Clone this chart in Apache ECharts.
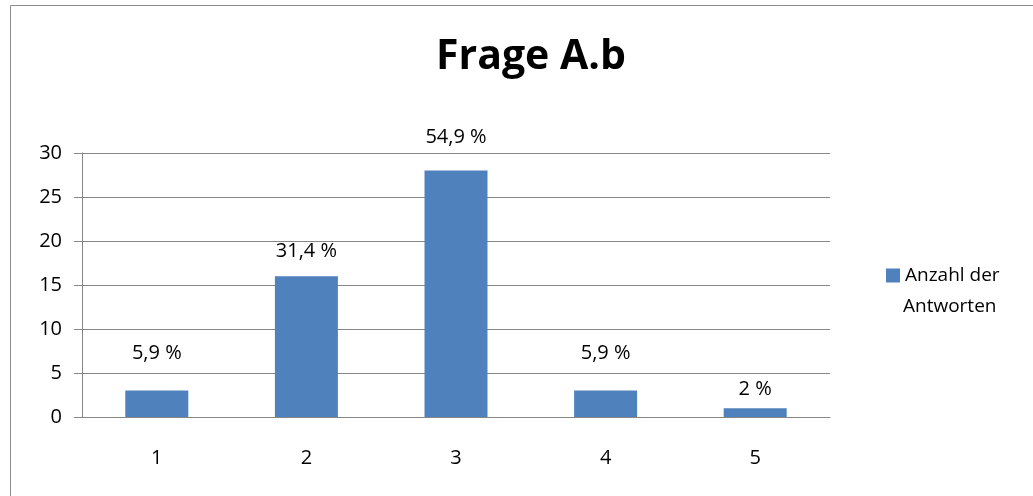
<!DOCTYPE html>
<html>
<head>
    <meta charset="utf-8" />
    <title>Frage A.b</title>
    <script src="https://cdn.jsdelivr.net/npm/echarts@6/dist/echarts.min.js"></script>
    <style>
        html, body {
            width: 100%;
            height: 100%;
            margin: 0px;
            padding: 0px;
            background: #fff;
        }
        #main {
            width: 1033px;
            height: 496px;
        }
    </style>
</head>
<body>
    <div id="main"></div>
<script type="text/javascript">
    var categories = ['1', '2', '3', '4', '5'];
    var answers = [3, 16, 28, 3, 1];
    var percentLabels = ['5,9 %', '31,4 %', '54,9 %', '5,9 %', '2 %'];
    var seriesName = 'Anzahl der Antworten';

    // label gaps above each bar, as in the excel original
    var labelGap = [27, 15, 23, 27, 9];

    var font = '"Open Sans", "Noto Sans", sans-serif';
    var myChart = echarts.init(document.getElementById('main'));

    var barData = answers.map(function (v, i) {
        return {
            value: v,
            label: { distance: labelGap[i] }
        };
    });

    myChart.setOption({
        animation: false,
        title: {
            text: 'Frage A.b',
            left: 526,
            top: 32,
            textAlign: 'center',
            textStyle: {
                fontFamily: font,
                fontSize: 41,
                fontWeight: 'bold',
                color: '#000'
            }
        },
        legend: {
            left: 881,
            top: 261,
            itemWidth: 14,
            itemHeight: 14,
            itemGap: 8,
            icon: 'rect',
            formatter: function () { return 'Anzahl der'; },
            textStyle: {
                fontFamily: font,
                fontSize: 19,
                color: '#000'
            },
            data: [seriesName]
        },
        graphic: [{
            type: 'rect',
            silent: true,
            shape: { x: 10.5, y: 5.5, width: 1040, height: 520 },
            style: { fill: 'none', stroke: '#8c8c8c', lineWidth: 1 }
        }, {
            type: 'text',
            left: 903,
            top: 297,
            silent: true,
            style: {
                text: 'Antworten',
                fontFamily: font,
                fontSize: 19,
                fill: '#000'
            }
        }],
        grid: {
            left: 82,
            right: 203,
            top: 153,
            bottom: 79
        },
        xAxis: {
            type: 'category',
            data: categories,
            axisLine: { lineStyle: { color: '#868686' } },
            axisTick: { length: 8, lineStyle: { color: '#868686' } },
            axisLabel: {
                margin: 31,
                fontFamily: font,
                fontSize: 20,
                color: '#000'
            }
        },
        yAxis: {
            type: 'value',
            min: 0,
            max: 30,
            interval: 5,
            axisLine: { show: true, lineStyle: { color: '#868686' } },
            axisTick: { show: true, length: 8, lineStyle: { color: '#868686' } },
            splitLine: { lineStyle: { color: '#868686' } },
            axisLabel: {
                margin: 20,
                fontFamily: font,
                fontSize: 20,
                color: '#000'
            }
        },
        series: [{
            name: seriesName,
            type: 'bar',
            data: barData,
            barWidth: 63,
            itemStyle: { color: '#4f81bd' },
            label: {
                show: true,
                position: 'top',
                fontFamily: font,
                fontSize: 20,
                color: '#000',
                formatter: function (p) { return percentLabels[p.dataIndex]; }
            }
        }]
    });

    window.addEventListener('resize', function () {
        myChart.resize();
    });
</script>
</body>
</html>
